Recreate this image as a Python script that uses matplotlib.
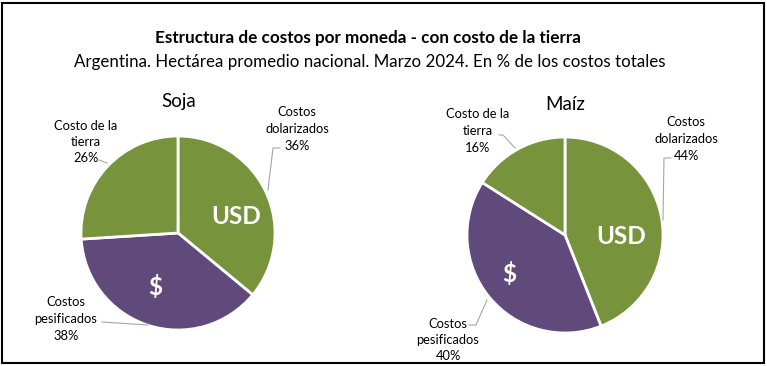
import matplotlib
matplotlib.use("Agg")
import matplotlib.pyplot as plt
from matplotlib.patches import Rectangle

plt.rcParams['font.family'] = ['Lato', 'DejaVu Sans']

categories = ["Costos\ndolarizados", "Costos\npesificados", "Costo de la\ntierra"]
soja_values = [36, 38, 26]
maiz_values = [44, 40, 16]
inner_labels = ["USD", "$", ""]
title = "Estructura de costos por moneda - con costo de la tierra"
subtitle = "Argentina. Hectárea promedio nacional. Marzo 2024. En % de los costos totales"

GREEN = "#77933C"
PURPLE = "#604A7B"
colors = [GREEN, PURPLE, GREEN]

W, H = 767, 366
fig = plt.figure(figsize=(W / 100, H / 100), dpi=100)
ax = fig.add_axes([0, 0, 1, 1])
ax.set_xlim(0, W)
ax.set_ylim(0, H)
ax.set_aspect('equal')
ax.axis('off')

def Y(y):
    return H - y

pies = [
    dict(name="Soja", values=soja_values, center=(178, Y(233)), r=97, title_pos=(179, Y(101)),
         label_pos=[(297, Y(129)), (66, Y(319)), (86, Y(142))],
         leaders=[[(280, Y(148)), (273, Y(148)), (268, Y(190))],
                  [(102, Y(322)), (148, Y(325))],
                  [(99, Y(160)), (107, Y(163))]],
         inner_pos=[(236, Y(216)), (155, Y(287))]),
    dict(name="Maíz", values=maiz_values, center=(565, Y(235)), r=98, title_pos=(565, Y(104)),
         label_pos=[(686, Y(139)), (448, Y(340)), (478, Y(131))],
         leaders=[[(671, Y(158)), (664, Y(158)), (663, Y(220))],
                  [(469, Y(325)), (476, Y(325)), (487, Y(300))],
                  [(499, Y(135)), (503, Y(135)), (515, Y(148))]],
         inner_pos=[(621, Y(237)), (509, Y(274))]),
]

for p in pies:
    ax.pie(p["values"], colors=colors, startangle=90, counterclock=False,
           center=p["center"], radius=p["r"],
           wedgeprops=dict(edgecolor="white", linewidth=2))
    ax.text(*p["title_pos"], p["name"], ha="center", va="center", fontsize=13.5, color="black")
    for cat, val, pos in zip(categories, p["values"], p["label_pos"]):
        ax.text(*pos, f"{cat}\n{val}%", ha="center", va="center", fontsize=9.3,
                color="black", linespacing=1.45)
    for ln in p["leaders"]:
        xs, ys = zip(*ln)
        ax.plot(xs, ys, color="#A6A6A6", lw=0.8)
    for lab, pos in zip(inner_labels, p["inner_pos"]):
        if lab:
            ax.text(*pos, lab, ha="center", va="center", fontsize=17.5, fontweight="bold", color="white")

ax.set_xlim(0, W)
ax.set_ylim(0, H)

fig.text(368 / W, 1 - 38 / H, title, ha="center", va="center", fontsize=12.3, fontweight="bold")
fig.text(370 / W, 1 - 62 / H, subtitle, ha="center", va="center", fontsize=12.2)

fig.patches.append(Rectangle((2 / W, 3 / H), 762 / W, 360 / H, transform=fig.transFigure,
                             fill=False, edgecolor="black", linewidth=1.5))

fig.savefig("out.png", dpi=100, facecolor="white")
